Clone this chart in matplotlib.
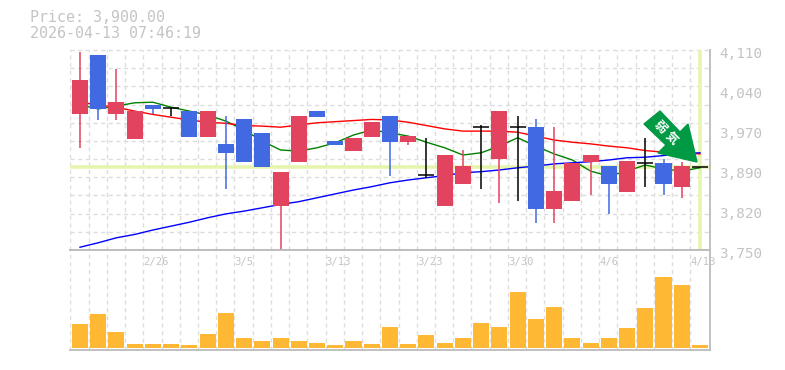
import matplotlib
matplotlib.use("Agg")
import matplotlib.pyplot as plt
from matplotlib.patches import Polygon
from matplotlib.transforms import offset_copy
import numpy as np

# ohlc, one entry per session
opens = [3995, 4101, 3995, 3950, 4011, 4006, 4000, 3953, 3941, 3986, 3961, 3829,
         3908, 4000, 3946, 3928, 3953, 3991, 3944, 3885, 3829, 3869, 3971, 3914,
         3971, 3971, 3824, 3838, 3908, 3901, 3854, 3907, 3907, 3863, 3900]
closes = [4056, 4004, 4016, 4000, 4004, 4006, 3953, 4000, 3925, 3908, 3899, 3890,
          3991, 3989, 3939, 3952, 3980, 3944, 3955, 3885, 3921, 3901, 3971, 4000,
          3971, 3824, 3856, 3907, 3921, 3869, 3910, 3907, 3869, 3901, 3900]
highs = [4106, 4101, 4076, 4000, 4011, 4006, 4000, 4000, 3991, 3986, 3961, 3890,
         3991, 4000, 3946, 3952, 3980, 3991, 3955, 3952, 3921, 3930, 3975, 4000,
         3991, 3986, 3971, 3907, 3921, 3901, 3910, 3952, 3914, 3908, 3900]
lows = [3934, 3984, 3984, 3950, 3995, 3991, 3953, 3953, 3860, 3908, 3899, 3750,
        3908, 3989, 3939, 3928, 3953, 3883, 3939, 3880, 3829, 3869, 3860, 3835,
        3838, 3799, 3799, 3838, 3849, 3815, 3854, 3863, 3849, 3844, 3900]
volumes = [24, 34, 16, 4, 4, 4, 3, 14, 35, 10, 7, 10, 7, 5, 3, 7, 4, 21,
           4, 13, 5, 10, 25, 21, 56, 29, 41, 10, 5, 10, 20, 40, 71, 63, 3]

ma_short = [4011, 4004, 4009, 4015, 4016, 4007, 4000, 3993, 3982, 3966, 3946, 3930,
            3928, 3934, 3943, 3957, 3966, 3961, 3955, 3944, 3934, 3921, 3925, 3937,
            3952, 3937, 3923, 3912, 3892, 3883, 3892, 3903, 3896, 3892, 3898]
ma_mid = [4016, 4011, 4007, 4000, 3994, 3989, 3984, 3980, 3978, 3974, 3973, 3971,
          3975, 3979, 3981, 3983, 3985, 3984, 3980, 3974, 3968, 3964, 3964, 3964,
          3962, 3955, 3948, 3944, 3941, 3937, 3934, 3929, 3926, 3925, 3923]
ma_long = [3755, 3763, 3772, 3778, 3786, 3793, 3800, 3808, 3815, 3820, 3826, 3832,
           3837, 3844, 3851, 3858, 3864, 3871, 3876, 3880, 3884, 3889, 3891, 3894,
           3898, 3901, 3905, 3907, 3909, 3912, 3916, 3917, 3920, 3923, 3925]

date_idx = [4, 9, 14, 19, 24, 29, 34]
date_labels = ["2/26", "3/5", "3/13", "3/23", "3/30", "4/6", "4/13"]
price_ticks = [4110, 4038, 3966, 3894, 3822, 3750]
price_labels = ["4,110", "4,040", "3,970", "3,890", "3,820", "3,750"]
last_price = 3900

RED = "#E2435F"
BLUE = "#4169E1"
GRID = "#DDDDDD"
EDGE = "#BBBBBB"
TEXT = "#C4C4C4"
FONT = "DejaVu Sans Mono"

W, H = 785, 370
fig = plt.figure(figsize=(W / 100, H / 100), dpi=100)
ax = fig.add_axes([70 / W, 1 - 250 / H, 640 / W, 200 / H])
vax = fig.add_axes([70 / W, 1 - 350 / H, 640 / W, 100 / H])

x = np.arange(len(opens))
xlim = (-0.548, 34.55)
edges = x - 0.53


def style_panel(a):
    a.set_xlim(xlim)
    a.set_xticks([])
    a.set_yticks([])
    for name, sp in a.spines.items():
        sp.set_color(EDGE)
        sp.set_linewidth(1.3)
        sp.set_visible(name in ("bottom", "right"))
    a.vlines(edges, 0, 1, transform=a.get_xaxis_transform(), color=GRID, lw=1, ls=(0, (3, 2.5)), zorder=1)


style_panel(ax)
style_panel(vax)

# price panel
ax.set_ylim(3750, 4110)
ax.hlines(np.linspace(3750, 4110, 12)[1:], *xlim, color=GRID, lw=1, ls=(0, (3, 2.5)), zorder=1, clip_on=False)
ax.axhline(last_price, color="#E6F5AE", lw=2.6, zorder=2)
ax.plot([34, 34], [3753, 4108], color="#E6F5AE", lw=2.6, zorder=2)

ax.plot(x, ma_short, color="#008000", lw=1, zorder=3)
ax.plot(x, ma_mid, color="#FF0000", lw=1, zorder=3)
ax.plot(x, ma_long, color="#0000FF", lw=1, zorder=3)

for i in x:
    o, c = opens[i], closes[i]
    if c > o:
        col = RED
    elif c < o:
        col = BLUE
    else:
        col = "black"
    ax.vlines(i, lows[i], highs[i], color=col, lw=1.1, zorder=4)
    if c == o:
        ax.hlines(o, i - 0.44, i + 0.44, color="black", lw=1.1, zorder=4)
    else:
        ax.bar(i, abs(c - o), bottom=min(o, c), width=0.88, color=col, zorder=5)

# signal arrow, in pixels of the figure
arrow_px = [(644, 124), (660, 111), (680, 132), (688, 124), (697, 162), (658, 153), (666, 145)]
fig.add_artist(Polygon([(px / W, 1 - py / H) for px, py in arrow_px], closed=True,
                       transform=fig.transFigure, color="#009944", zorder=10))
for ch, cx, cy in [("弱", 660, 127), ("気", 671, 138)]:
    fig.text(cx / W, 1 - cy / H, ch, color="white", fontsize=9, rotation=-45, ha="center", va="center",
             family=["Noto Sans CJK JP", "DejaVu Sans"], fontweight="bold", zorder=11)

for p, lab in zip(price_ticks, price_labels):
    ax.text(1.0 + 9 / 640, p, lab, color=TEXT, fontsize=10.4, family=FONT, va="center", ha="left",
            transform=offset_copy(ax.get_yaxis_transform(), fig=fig, x=0, y=-2.9, units="points"))

# volume panel
vax.set_ylim(-2, 98)
vax.spines["top"].set_visible(True)
vax.bar(x, volumes, width=0.88, color="#FFB833", zorder=3)
for i, lab in zip(date_idx, date_labels):
    vax.text(edges[i], 86, lab, color=TEXT, fontsize=7.6, family=FONT, va="center", ha="left", zorder=4)

fig.text(30 / W, 1 - 18 / H, "Price: 3,900.00", color=TEXT, fontsize=10.8, family=FONT, va="center")
fig.text(30 / W, 1 - 33 / H, "2026-04-13 07:46:19", color=TEXT, fontsize=10.8, family=FONT, va="center")

fig.savefig("out.png", dpi=100)
